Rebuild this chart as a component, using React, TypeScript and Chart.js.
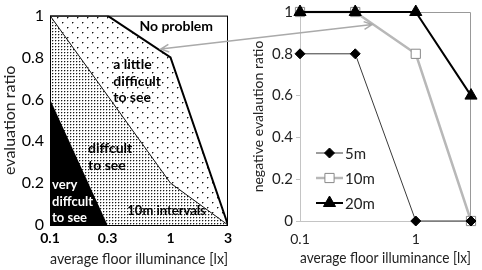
import React, { useEffect, useRef } from 'react';
import { Chart, registerables } from 'chart.js';
import { drawPoint } from 'chart.js/helpers';
Chart.register(...registerables);

const FONT = 'Lato, "Open Sans", sans-serif';

// ---------- left chart: evaluation zones ----------
const zoneTicksX = [0.1, 0.3, 1, 3];
const ratioTicks = [0, 0.2, 0.4, 0.6, 0.8, 1];
const veryDifficultX = [0.1, 0.3];
const veryDifficultY = [0.6, 0];
const difficultX = [0.1, 1, 3];
const difficultY = [1, 0.2, 0];
const littleDifficultX = [0.1, 0.3, 1, 3];
const littleDifficultY = [1, 1, 0.8, 0];

const zoneLabelText = [['No problem'], ['a little', 'difficult', 'to see'], ['diffcult', 'to see'], ['very', 'diffcult', 'to see'], ['10m intervals']];
const zoneLabelX = [0.552, 0.335, 0.207, 0.104, 0.438];
const zoneLabelY = [0.949, 0.766, 0.364, 0.19, 0.07];
const zoneLabelColor = ['#000', '#000', '#000', '#fff', '#000'];
const zoneLabelSize = [14, 14, 14, 13, 13];

// ---------- right chart: negative evaluation ratio ----------
const illuminance = [0.1, 0.3, 1, 3];
const illumTicks = [0.1, 1];
const seriesNames = ['5m', '10m', '20m'];
const ratio5m = [0.8, 0.8, 0, 0];
const ratio10m = [1, 1, 0.8, 0];
const ratio20m = [1, 1, 1, 0.6];

// arrow linking the 10m curve to the zone boundary (data coords in each chart)
const arrowLeftEnd = { x: 0.83, y: 0.84 };
const arrowRightEnd = { x: 0.42, y: 0.94 };

const pts = (xs: number[], ys: number[]) => xs.map((x, i) => ({ x, y: ys[i] }));

function makePattern(ctx: CanvasRenderingContext2D, w: number, h: number, dots: number[][], color: string, halo: string) {
  const c = document.createElement('canvas');
  c.width = w;
  c.height = h;
  const g = c.getContext('2d')!;
  g.fillStyle = '#fff';
  g.fillRect(0, 0, w, h);
  dots.forEach(([x, y]) => {
    if (halo) {
      g.fillStyle = halo;
      g.fillRect(x + 1, y, 1, 1);
      g.fillRect(x, y + 1, 1, 1);
    }
    g.fillStyle = color;
    g.fillRect(x, y, 1, 1);
  });
  return ctx.createPattern(c, 'repeat')!;
}

export default function App() {
  const leftRef = useRef<HTMLCanvasElement>(null);
  const rightRef = useRef<HTMLCanvasElement>(null);
  const overRef = useRef<HTMLCanvasElement>(null);

  useEffect(() => {
    const lctx = leftRef.current!.getContext('2d')!;
    const dense = makePattern(lctx, 3, 3, [[1, 1]], '#1a1a1a', '#bbb');
    const sparse = makePattern(lctx, 10, 10, [[2, 2], [7, 7]], '#111', '#999');

    const zoneLabels = {
      id: 'zoneLabels',
      afterDatasetsDraw(chart: any) {
        const { ctx, scales } = chart;
        ctx.save();
        ctx.textBaseline = 'middle';
        ctx.textAlign = 'left';
        zoneLabelText.forEach((lines, i) => {
          ctx.fillStyle = zoneLabelColor[i];
          ctx.font = `bold ${zoneLabelSize[i]}px ${FONT}`;
          const x = scales.x.getPixelForValue(zoneLabelX[i]);
          const y0 = scales.y.getPixelForValue(zoneLabelY[i]);
          lines.forEach((t, k) => ctx.fillText(t, x, y0 + k * 16.5));
        });
        ctx.restore();
      },
      afterDraw(chart: any) {
        const { ctx, chartArea: a } = chart;
        ctx.save();
        ctx.strokeStyle = '#000';
        ctx.lineWidth = 1;
        ctx.strokeRect(a.left + 0.5, a.top + 0.5, a.right - a.left - 1, a.bottom - a.top);
        ctx.restore();
      },
    };

    const left = new Chart(leftRef.current!, {
      type: 'line',
      data: {
        datasets: [
          { data: pts(veryDifficultX, veryDifficultY), fill: 'origin', backgroundColor: '#000', borderColor: '#000', borderWidth: 0, pointRadius: 0 },
          { data: pts(difficultX, difficultY), fill: 'origin', backgroundColor: dense, borderColor: '#111', borderWidth: 1, pointRadius: 0 },
          { data: pts(littleDifficultX, littleDifficultY), fill: 'origin', backgroundColor: sparse, borderColor: '#000', borderWidth: 2, pointRadius: 0 },
        ],
      },
      options: {
        animation: false,
        responsive: false,
        events: [],
        layout: { padding: { left: 0, right: 17, top: 11, bottom: 0 } },
        plugins: { legend: { display: false }, tooltip: { enabled: false } },
        scales: {
          x: {
            type: 'logarithmic',
            min: 0.1,
            max: 3,
            grid: { display: false, drawTicks: false },
            border: { display: false },
            ticks: { autoSkip: false, maxRotation: 0, padding: 5, color: '#000', font: { family: FONT, size: 14, weight: 'bold' }, callback: (v: any) => String(v) },
            afterBuildTicks: (s: any) => { s.ticks = zoneTicksX.map((v) => ({ value: v })); },
            afterFit: (s: any) => { s.height = 45; },
            title: { display: true, text: 'average floor illuminance [lx]', color: '#222', font: { family: FONT, size: 16 }, padding: { top: 0, bottom: 2 } },
          },
          y: {
            type: 'linear',
            min: 0,
            max: 1,
            grid: { display: false, drawTicks: false },
            border: { display: false },
            ticks: { autoSkip: false, padding: 6, color: '#000', font: { family: FONT, size: 16 }, callback: (v: any) => String(v) },
            afterBuildTicks: (s: any) => { s.ticks = ratioTicks.map((v) => ({ value: v })); },
            afterFit: (s: any) => { s.width = 50; },
            title: { display: true, text: 'evaluation ratio', color: '#222', font: { family: FONT, size: 16 }, padding: { top: 0, bottom: 0 } },
          },
        },
      } as any,
      plugins: [zoneLabels],
    });

    const styles = [
      { color: '#3a3a3a', width: 1, pointStyle: 'rectRot', radius: 5, fill: '#000', pBorder: '#000' },
      { color: '#b8b8b8', width: 2.5, pointStyle: 'rect', radius: 6.5, fill: '#fff', pBorder: '#888' },
      { color: '#000', width: 2, pointStyle: 'triangle', radius: 7, fill: '#000', pBorder: '#000' },
    ];
    const seriesData = [ratio5m, ratio10m, ratio20m];
    const orders = [1, 2, 0];

    const rightDeco = {
      id: 'rightDeco',
      beforeDatasetsDraw(chart: any) {
        const { ctx, chartArea: a } = chart;
        ctx.save();
        ctx.strokeStyle = '#999';
        ctx.lineWidth = 1;
        ctx.beginPath();
        ctx.moveTo(a.left, a.top + 0.5);
        ctx.lineTo(a.right - 0.5, a.top + 0.5);
        ctx.lineTo(a.right - 0.5, a.bottom);
        ctx.stroke();
        ctx.restore();
      },
      afterDraw(chart: any) {
        const { ctx, chartArea: a } = chart;
        ctx.save();
        seriesNames.forEach((name, i) => {
          const st = styles[i];
          const y = a.top + 141 + i * 25;
          const x0 = a.left + 16;
          const x1 = a.left + 43;
          ctx.strokeStyle = st.color;
          ctx.lineWidth = st.width;
          ctx.beginPath();
          ctx.moveTo(x0, y);
          ctx.lineTo(x1, y);
          ctx.stroke();
          ctx.fillStyle = st.fill;
          ctx.strokeStyle = st.pBorder;
          ctx.lineWidth = 1;
          drawPoint(ctx, { pointStyle: st.pointStyle, radius: st.radius, rotation: 0, borderWidth: 1 } as any, (x0 + x1) / 2, y);
          ctx.fillStyle = '#222';
          ctx.font = `15px ${FONT}`;
          ctx.textAlign = 'left';
          ctx.textBaseline = 'middle';
          ctx.fillText(name, x1 + 2, y + 1);
        });
        ctx.restore();
      },
    };

    const right = new Chart(rightRef.current!, {
      type: 'line',
      data: {
        datasets: seriesNames.map((name, i) => ({
          label: name,
          data: pts(illuminance, seriesData[i]),
          borderColor: styles[i].color,
          borderWidth: styles[i].width,
          pointStyle: styles[i].pointStyle,
          pointRadius: styles[i].radius,
          pointBackgroundColor: styles[i].fill,
          pointBorderColor: styles[i].pBorder,
          pointBorderWidth: 1,
          fill: false,
          clip: false,
          order: orders[i],
        })),
      },
      options: {
        animation: false,
        responsive: false,
        events: [],
        layout: { padding: { left: 0, right: 11, top: 12, bottom: 0 } },
        plugins: { legend: { display: false }, tooltip: { enabled: false } },
        scales: {
          x: {
            type: 'logarithmic',
            min: 0.1,
            max: 3,
            grid: { display: false, drawTicks: false },
            border: { display: true, color: '#c4c4c4', width: 1 },
            ticks: { autoSkip: false, maxRotation: 0, padding: 10, color: '#222', font: { family: FONT, size: 14 }, callback: (v: any) => String(v) },
            afterBuildTicks: (s: any) => { s.ticks = illumTicks.map((v) => ({ value: v })); },
            afterFit: (s: any) => { s.height = 49; },
            title: { display: true, text: 'average floor illuminance [lx]', color: '#222', font: { family: FONT, size: 15 }, padding: { top: 0, bottom: 3 } },
          },
          y: {
            type: 'linear',
            min: 0,
            max: 1,
            grid: { display: true, drawOnChartArea: false, drawTicks: true, tickLength: 4, color: '#c4c4c4' },
            border: { display: true, color: '#c4c4c4', width: 1 },
            ticks: { autoSkip: false, padding: 3, color: '#222', font: { family: FONT, size: 15 }, callback: (v: any) => String(v) },
            afterBuildTicks: (s: any) => { s.ticks = ratioTicks.map((v) => ({ value: v })); },
            afterFit: (s: any) => { s.width = 55; },
            title: { display: true, text: 'negative evalaution ratio', color: '#222', font: { family: FONT, size: 14 }, padding: { top: 5, bottom: 0 } },
          },
        },
      } as any,
      plugins: [rightDeco],
    });

    // arrow overlay
    const oc = overRef.current!.getContext('2d')!;
    oc.clearRect(0, 0, 482, 270);
    const lx = left.scales.x.getPixelForValue(arrowLeftEnd.x);
    const ly = left.scales.y.getPixelForValue(arrowLeftEnd.y);
    const rx = 245 + right.scales.x.getPixelForValue(arrowRightEnd.x);
    const ry = right.scales.y.getPixelForValue(arrowRightEnd.y);
    oc.strokeStyle = '#aaa';
    oc.lineWidth = 1.5;
    oc.beginPath();
    oc.moveTo(lx, ly);
    oc.lineTo(rx, ry);
    const ang = Math.atan2(ry - ly, rx - lx);
    const head = (x: number, y: number, a: number) => {
      const L = 9;
      oc.moveTo(x + L * Math.cos(a + 0.45), y + L * Math.sin(a + 0.45));
      oc.lineTo(x, y);
      oc.lineTo(x + L * Math.cos(a - 0.45), y + L * Math.sin(a - 0.45));
    };
    head(lx, ly, ang);
    head(rx, ry, ang + Math.PI);
    oc.stroke();

    return () => {
      left.destroy();
      right.destroy();
    };
  }, []);

  return (
    <div style={{ position: 'absolute', left: 0, top: 0, width: 482, height: 270, background: '#fff' }}>
      <canvas ref={leftRef} width={245} height={270} style={{ position: 'absolute', left: 0, top: 0, display: 'block' }} />
      <canvas ref={rightRef} width={237} height={270} style={{ position: 'absolute', left: 245, top: 0, display: 'block' }} />
      <canvas ref={overRef} width={482} height={270} style={{ position: 'absolute', left: 0, top: 0, display: 'block', pointerEvents: 'none' }} />
    </div>
  );
}
